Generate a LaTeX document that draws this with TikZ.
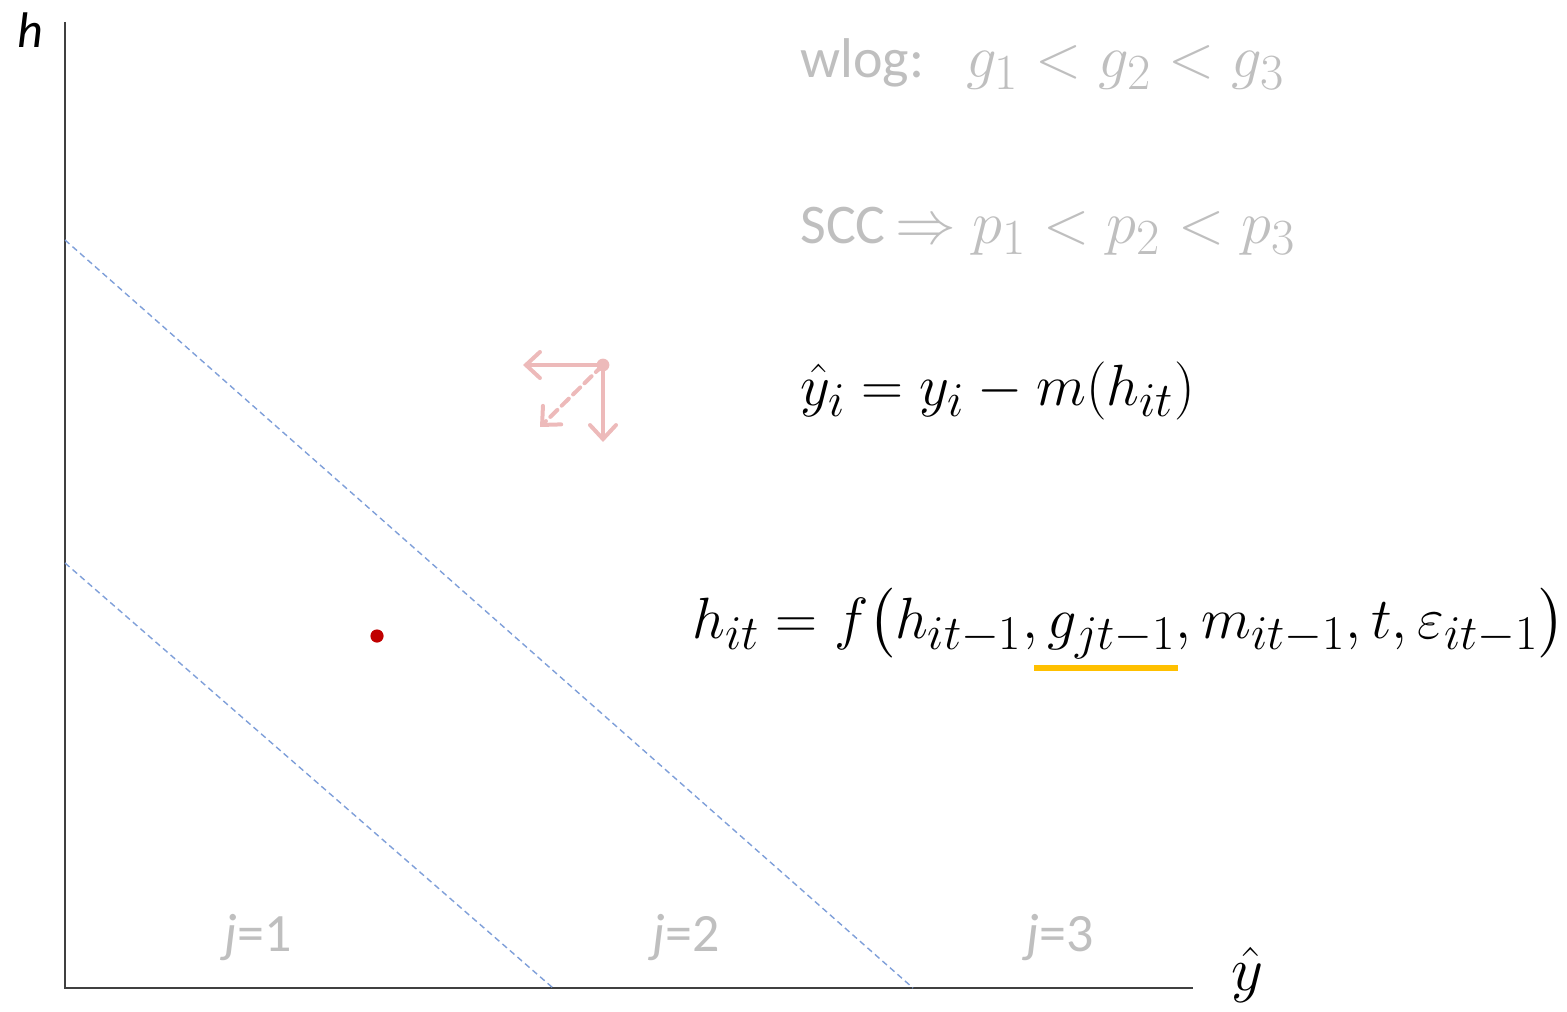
\documentclass[tikz,border=0pt]{standalone}
\usepackage{graphicx}
\usepackage{amsmath}
\usepackage{fontspec}
\setmainfont{Carlito}
\usetikzlibrary{arrows.meta}
\definecolor{axisgray}{HTML}{404040}
\definecolor{lightgray}{HTML}{BFBFBF}
\definecolor{dashblue}{HTML}{7F9FD9}
\definecolor{dotred}{HTML}{C00000}
\definecolor{pink}{HTML}{EDBABA}
\definecolor{underorange}{HTML}{FFC000}
\newcommand{\graymath}[1]{\scalebox{1.22}{\fontsize{24.88}{30}\selectfont$#1$}}
\newcommand{\bigmath}[1]{\scalebox{1.17}{\fontsize{24.88}{30}\selectfont$#1$}}
\tikzset{
  axisline/.style={draw=axisgray, line width=1pt},
  bound/.style={draw=dashblue, line width=0.7pt, dash pattern=on 3pt off 2pt},
  pinkarrow/.style={draw=pink, line width=2pt, line cap=round, -{Straight Barb[length=7pt,width=13pt,line cap=round]}},
  graytext/.style={text=lightgray, inner sep=0pt, font=\fontsize{28}{32}\selectfont},
  regionlabel/.style={text=lightgray, inner sep=0pt, font=\fontsize{27}{30}\selectfont},
  eqtext/.style={text=black, inner sep=0pt},
}
\begin{document}
\begin{tikzpicture}[x=0.5pt,y=-0.5pt]
\useasboundingbox (0,0) rectangle (1567,1011);
% axes
\coordinate (top) at (65,22);
\coordinate (origin) at (65,988);
\coordinate (right) at (1193,988);
\draw[axisline] (top) -- (origin) -- (right);
\node[inner sep=0pt, anchor=base, font=\fontsize{25}{28}\selectfont\itshape] (hlab) at (30,48) {h};
\node[inner sep=0pt, anchor=base] (ylab) at (1247,990) {\scalebox{1.25}{\fontsize{24.88}{30}\selectfont$\hat{y}$}};
% boundaries
\coordinate (b1s) at (65,563);
\coordinate (b1e) at (553,988);
\coordinate (b2s) at (65,240);
\coordinate (b2e) at (913,988);
\draw[bound] (b1s) -- (b1e);
\draw[bound] (b2s) -- (b2e);
% region labels
\node[regionlabel, anchor=base] (j1) at (258,951) {\textit{j}=1};
\node[regionlabel, anchor=base] (j2) at (686,951) {\textit{j}=2};
\node[regionlabel, anchor=base] (j3) at (1060,951) {\textit{j}=3};
% red dot
\fill[dotred] (377,636) circle (3.3pt);
% pink arrows
\coordinate (po) at (603,365);
\coordinate (pl) at (523,365);
\coordinate (pd) at (603,442);
\coordinate (pdg) at (540,427);
\fill[pink] (po) circle (3.2pt);
\draw[pinkarrow] (po) -- (pl);
\draw[pinkarrow] (po) -- (pd);
\draw[pinkarrow, dash pattern=on 5pt off 3pt] (po) -- (pdg);
% gray texts
\node[graytext, anchor=base west] (wlog) at (800,78) {wlog:\hspace{0.75em}\graymath{g_1 < g_2 < g_3}};
\node[graytext, anchor=base west] (scc) at (800,243) {SCC\,\graymath{\Rightarrow p_1 < p_2 < p_3}};
% equations
\node[eqtext, anchor=base west] (eq1) at (800,405) {\bigmath{\hat{y}_i = y_i - m(h_{it})}};
\node[eqtext, anchor=base west] (eq2) at (692,638) {\bigmath{h_{it} = f\bigl(h_{it-1}, g_{jt-1}, m_{it-1}, t, \varepsilon_{it-1}\bigr)}};
\coordinate (u1) at (1034,668);
\coordinate (u2) at (1178,668);
\draw[underorange, line width=3pt] (u1) -- (u2);
\end{tikzpicture}
\end{document}
